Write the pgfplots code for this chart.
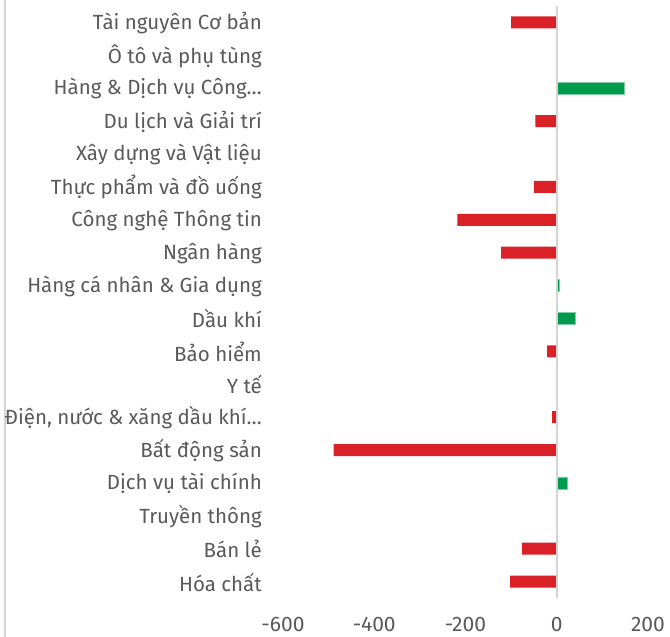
\documentclass[border=0pt]{standalone}
\usepackage{fontspec}
\setmainfont{Fira Sans}
\usepackage{pgfplots}
\pgfplotsset{compat=1.18}
\definecolor{txt}{HTML}{595959}
\definecolor{negred}{HTML}{DA2128}
\definecolor{posgreen}{HTML}{009A4E}
\definecolor{zline}{HTML}{D4D4D4}
\begin{document}
\begin{tikzpicture}[x=1pt,y=1pt]
\path[use as bounding box] (0,0) rectangle (670,637);
\draw[zline, line width=2pt] (5,0) -- (5,637);
\begin{axis}[
  at={(283pt,39pt)}, anchor=south west,
  scale only axis, width=365pt, height=592pt,
  xmin=-600, xmax=200, ymin=-0.5, ymax=17.5,
  y dir=reverse,
  xtick={-600,-400,-200,0,200},
  ytick={0,1,2,3,4,5,6,7,8,9,10,11,12,13,14,15,16,17},
  yticklabels={{Tài nguyên Cơ bản}, {Ô tô và phụ tùng}, {Hàng \& Dịch vụ Công…}, {Du lịch và Giải trí}, {Xây dựng và Vật liệu}, {Thực phẩm và đồ uống}, {Công nghệ Thông tin}, {Ngân hàng}, {Hàng cá nhân \& Gia dụng}, {Dầu khí}, {Bảo hiểm}, {Y tế}, {Điện, nước \& xăng dầu khí…}, {Bất động sản}, {Dịch vụ tài chính}, {Truyền thông}, {Bán lẻ}, {Hóa chất}},
  axis line style={draw=none},
  major tick length=0pt,
  /pgf/number format/assume math mode=true,
  ticklabel style={text=txt, inner sep=0pt},
  yticklabel style={font=\fontsize{20.5}{24}\selectfont, anchor=east, xshift=-21pt, yshift=-0.5pt},
  xticklabel style={font=\fontsize{21}{24}\selectfont, anchor=north, yshift=-19pt},
  xbar, bar width=12pt, bar shift=0pt,
  clip=false,
]
\addplot[fill=negred, draw=none] coordinates {
(-100,0) (-1,1) (-47,3) (-50,5) (-218,6) (-122,7) (-21,10) (-10,12) (-489,13) (-76,16) (-102,17)
};
\addplot[fill=posgreen, draw=posgreen!50] coordinates {
(148,2) (5,8) (41,9) (2,11) (24,14)
};
\draw[zline, line width=2pt] (axis cs:0,-0.5) -- (axis cs:0,17.5);
\end{axis}
\end{tikzpicture}
\end{document}
